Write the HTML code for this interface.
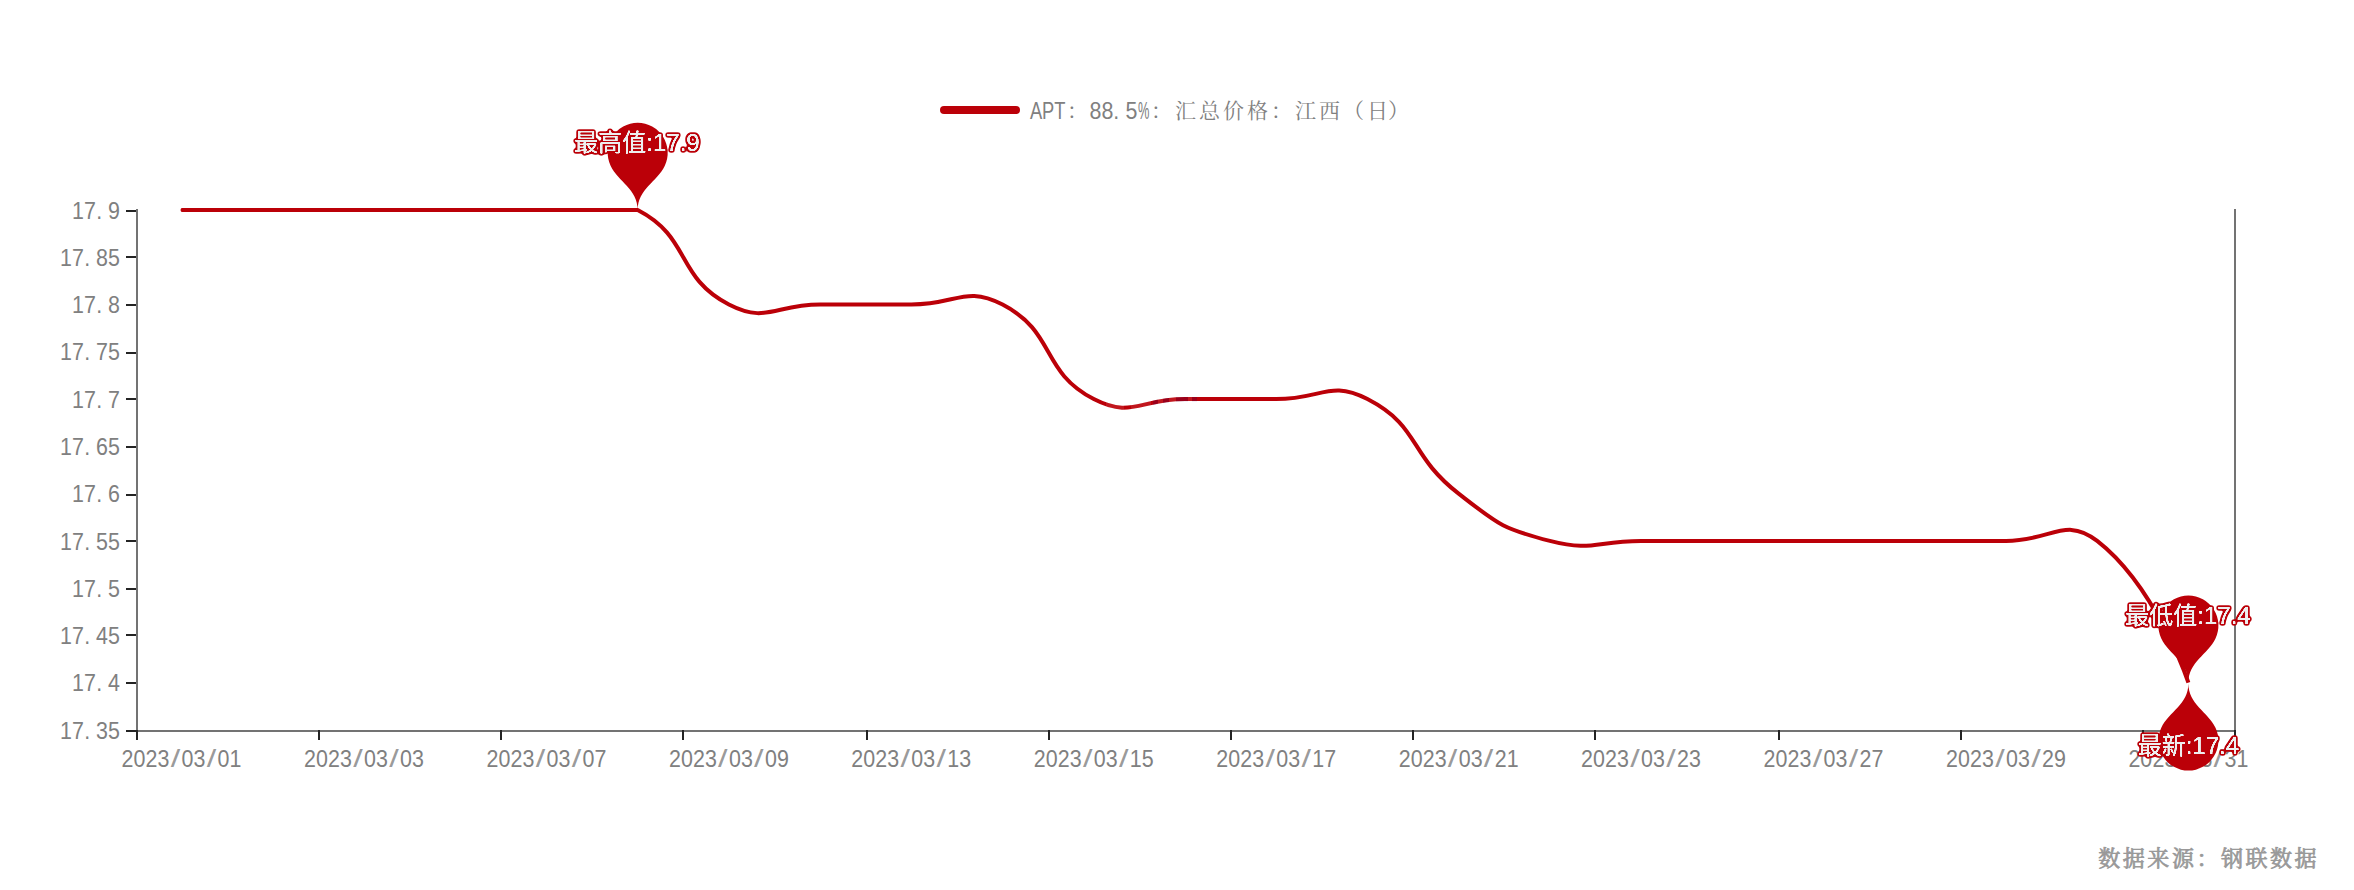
<!DOCTYPE html>
<html lang="zh-CN"><head><meta charset="utf-8"><title>APT：88.5%：汇总价格：江西（日）</title>
<style>html,body{margin:0;padding:0;background:#fff}body{width:2354px;height:890px;overflow:hidden}svg{display:block}
.ax{font-family:"Liberation Sans","Noto Sans CJK SC",sans-serif;font-size:23.3px;fill:#808080}
.kai{font-family:"Liberation Sans","Noto Serif CJK SC","Noto Sans CJK SC",serif;font-size:23.3px;fill:#808080}
.kai .c{font-size:21px}
.mp{font-family:"Liberation Sans","Noto Sans CJK SC",sans-serif;font-size:24px;fill:#eee;text-anchor:middle;filter:url(#halo)}
.ft{font-family:"Liberation Sans","Noto Serif CJK SC","Noto Sans CJK SC",serif;font-size:22px;fill:#999;stroke:#999;stroke-width:.75px}
</style></head><body>
<svg width="2354" height="890" viewBox="0 0 2354 890">
<filter id="halo" x="-10%" y="-30%" width="120%" height="160%" color-interpolation-filters="sRGB"><feGaussianBlur in="SourceAlpha" stdDeviation="0.5" result="b0"/><feComponentTransfer in="b0" result="w"><feFuncA type="linear" slope="2.6" intercept="-0.3"/></feComponentTransfer><feMorphology in="w" operator="dilate" radius="1" result="d"/><feGaussianBlur in="d" stdDeviation="0.9" result="b"/><feComponentTransfer in="b" result="t"><feFuncA type="linear" slope="4" intercept="-0.6"/></feComponentTransfer><feFlood flood-color="#bb0008" result="f"/><feComposite in="f" in2="t" operator="in" result="h"/><feFlood flood-color="#eee" result="g"/><feComposite in="g" in2="w" operator="in" result="wf"/><feMerge><feMergeNode in="h"/><feMergeNode in="wf"/></feMerge></filter>
<rect width="2354" height="890" fill="#fff"/>
<g stroke="#737373" stroke-width="2" fill="none">
<path d="M137 209V732"/><path d="M2235 209V732"/><path d="M136 731H2236"/></g>
<g stroke="#242424" stroke-width="2" fill="none">
<path d="M126 211.0H136"/>
<path d="M126 257.0H136"/>
<path d="M126 305.0H136"/>
<path d="M126 353.0H136"/>
<path d="M126 399.0H136"/>
<path d="M126 447.0H136"/>
<path d="M126 495.0H136"/>
<path d="M126 541.0H136"/>
<path d="M126 589.0H136"/>
<path d="M126 635.0H136"/>
<path d="M126 683.0H136"/>
<path d="M126 731.0H136"/>
<path d="M137.0 730V740"/>
<path d="M319.0 730V740"/>
<path d="M501.0 730V740"/>
<path d="M683.0 730V740"/>
<path d="M867.0 730V740"/>
<path d="M1049.0 730V740"/>
<path d="M1231.0 730V740"/>
<path d="M1413.0 730V740"/>
<path d="M1595.0 730V740"/>
<path d="M1779.0 730V740"/>
<path d="M1961.0 730V740"/>
<path d="M2143.0 730V740"/>
<path d="M2235 730V740"/>
</g>
<g class="ax">
<text transform="translate(72.00 218.60) scale(0.92 1)" x="0.00 13.04 26.41 39.13">17.9</text>
<text transform="translate(60.00 265.87) scale(0.92 1)" x="0.00 13.04 26.41 39.13 52.17">17.85</text>
<text transform="translate(72.00 313.15) scale(0.92 1)" x="0.00 13.04 26.41 39.13">17.8</text>
<text transform="translate(60.00 360.42) scale(0.92 1)" x="0.00 13.04 26.41 39.13 52.17">17.75</text>
<text transform="translate(72.00 407.69) scale(0.92 1)" x="0.00 13.04 26.41 39.13">17.7</text>
<text transform="translate(60.00 454.96) scale(0.92 1)" x="0.00 13.04 26.41 39.13 52.17">17.65</text>
<text transform="translate(72.00 502.24) scale(0.92 1)" x="0.00 13.04 26.41 39.13">17.6</text>
<text transform="translate(60.00 549.51) scale(0.92 1)" x="0.00 13.04 26.41 39.13 52.17">17.55</text>
<text transform="translate(72.00 596.78) scale(0.92 1)" x="0.00 13.04 26.41 39.13">17.5</text>
<text transform="translate(60.00 644.05) scale(0.92 1)" x="0.00 13.04 26.41 39.13 52.17">17.45</text>
<text transform="translate(72.00 691.33) scale(0.92 1)" x="0.00 13.04 26.41 39.13">17.4</text>
<text transform="translate(60.00 738.60) scale(0.92 1)" x="0.00 13.04 26.41 39.13 52.17">17.35</text>
<text transform="translate(121.61 766.70) scale(0.92 1)" x="0.00 13.04 26.09 39.13 53.48 65.22 78.26 92.61 104.35 117.39">2023<tspan fill-opacity=".8" textLength="10.33" lengthAdjust="spacingAndGlyphs">/</tspan>03<tspan fill-opacity=".8" textLength="10.33" lengthAdjust="spacingAndGlyphs">/</tspan>01</text>
<text transform="translate(304.04 766.70) scale(0.92 1)" x="0.00 13.04 26.09 39.13 53.48 65.22 78.26 92.61 104.35 117.39">2023<tspan fill-opacity=".8" textLength="10.33" lengthAdjust="spacingAndGlyphs">/</tspan>03<tspan fill-opacity=".8" textLength="10.33" lengthAdjust="spacingAndGlyphs">/</tspan>03</text>
<text transform="translate(486.48 766.70) scale(0.92 1)" x="0.00 13.04 26.09 39.13 53.48 65.22 78.26 92.61 104.35 117.39">2023<tspan fill-opacity=".8" textLength="10.33" lengthAdjust="spacingAndGlyphs">/</tspan>03<tspan fill-opacity=".8" textLength="10.33" lengthAdjust="spacingAndGlyphs">/</tspan>07</text>
<text transform="translate(668.91 766.70) scale(0.92 1)" x="0.00 13.04 26.09 39.13 53.48 65.22 78.26 92.61 104.35 117.39">2023<tspan fill-opacity=".8" textLength="10.33" lengthAdjust="spacingAndGlyphs">/</tspan>03<tspan fill-opacity=".8" textLength="10.33" lengthAdjust="spacingAndGlyphs">/</tspan>09</text>
<text transform="translate(851.35 766.70) scale(0.92 1)" x="0.00 13.04 26.09 39.13 53.48 65.22 78.26 92.61 104.35 117.39">2023<tspan fill-opacity=".8" textLength="10.33" lengthAdjust="spacingAndGlyphs">/</tspan>03<tspan fill-opacity=".8" textLength="10.33" lengthAdjust="spacingAndGlyphs">/</tspan>13</text>
<text transform="translate(1033.78 766.70) scale(0.92 1)" x="0.00 13.04 26.09 39.13 53.48 65.22 78.26 92.61 104.35 117.39">2023<tspan fill-opacity=".8" textLength="10.33" lengthAdjust="spacingAndGlyphs">/</tspan>03<tspan fill-opacity=".8" textLength="10.33" lengthAdjust="spacingAndGlyphs">/</tspan>15</text>
<text transform="translate(1216.22 766.70) scale(0.92 1)" x="0.00 13.04 26.09 39.13 53.48 65.22 78.26 92.61 104.35 117.39">2023<tspan fill-opacity=".8" textLength="10.33" lengthAdjust="spacingAndGlyphs">/</tspan>03<tspan fill-opacity=".8" textLength="10.33" lengthAdjust="spacingAndGlyphs">/</tspan>17</text>
<text transform="translate(1398.65 766.70) scale(0.92 1)" x="0.00 13.04 26.09 39.13 53.48 65.22 78.26 92.61 104.35 117.39">2023<tspan fill-opacity=".8" textLength="10.33" lengthAdjust="spacingAndGlyphs">/</tspan>03<tspan fill-opacity=".8" textLength="10.33" lengthAdjust="spacingAndGlyphs">/</tspan>21</text>
<text transform="translate(1581.09 766.70) scale(0.92 1)" x="0.00 13.04 26.09 39.13 53.48 65.22 78.26 92.61 104.35 117.39">2023<tspan fill-opacity=".8" textLength="10.33" lengthAdjust="spacingAndGlyphs">/</tspan>03<tspan fill-opacity=".8" textLength="10.33" lengthAdjust="spacingAndGlyphs">/</tspan>23</text>
<text transform="translate(1763.52 766.70) scale(0.92 1)" x="0.00 13.04 26.09 39.13 53.48 65.22 78.26 92.61 104.35 117.39">2023<tspan fill-opacity=".8" textLength="10.33" lengthAdjust="spacingAndGlyphs">/</tspan>03<tspan fill-opacity=".8" textLength="10.33" lengthAdjust="spacingAndGlyphs">/</tspan>27</text>
<text transform="translate(1945.96 766.70) scale(0.92 1)" x="0.00 13.04 26.09 39.13 53.48 65.22 78.26 92.61 104.35 117.39">2023<tspan fill-opacity=".8" textLength="10.33" lengthAdjust="spacingAndGlyphs">/</tspan>03<tspan fill-opacity=".8" textLength="10.33" lengthAdjust="spacingAndGlyphs">/</tspan>29</text>
<text transform="translate(2128.39 766.70) scale(0.92 1)" x="0.00 13.04 26.09 39.13 53.48 65.22 78.26 92.61 104.35 117.39">2023<tspan fill-opacity=".8" textLength="10.33" lengthAdjust="spacingAndGlyphs">/</tspan>03<tspan fill-opacity=".8" textLength="10.33" lengthAdjust="spacingAndGlyphs">/</tspan>31</text>
</g>
<rect x="940" y="106" width="80" height="8" rx="4" ry="4" fill="#bb0008"/>
<text class="kai" y="118.8"><tspan x="1029.9" textLength="35.6" lengthAdjust="spacingAndGlyphs">APT</tspan><tspan class="c" x="1067.0" y="117.8">：</tspan><tspan x="1089.5" y="118.8" textLength="29.8" lengthAdjust="spacingAndGlyphs">88.</tspan><tspan x="1125.5" textLength="11.9" lengthAdjust="spacingAndGlyphs">5</tspan><tspan x="1137.9" textLength="11.4" lengthAdjust="spacingAndGlyphs">%</tspan><tspan class="c" x="1151.0 1175.0 1199.0 1223.0 1247.0 1271.0 1295.0 1319.0 1343.0 1367.0" y="117.8">：汇总价格：江西（日）</tspan></text>
<path d="M181.61 210.00C181.61 210.00 227.22 210.00 272.83 210.00C318.43 210.00 318.43 210.00 364.04 210.00C409.65 210.00 409.65 210.00 455.26 210.00C500.87 210.00 500.87 210.00 546.48 210.00C592.09 210.00 600.32 210.00 637.70 210.00C691.53 237.90 675.08 276.64 728.91 304.55C766.29 323.92 774.52 304.55 820.13 304.55C865.74 304.55 865.74 304.55 911.35 304.55C956.96 304.55 965.18 285.17 1002.57 304.55C1056.40 332.45 1039.95 371.19 1093.78 399.09C1131.16 418.46 1139.39 399.09 1185.00 399.09C1230.61 399.09 1230.61 399.09 1276.22 399.09C1321.83 399.09 1330.05 379.72 1367.43 399.09C1421.27 426.99 1407.46 453.85 1458.65 493.64C1498.68 524.75 1501.55 528.39 1549.87 540.91C1592.77 552.03 1595.48 540.91 1641.09 540.91C1686.70 540.91 1686.70 540.91 1732.30 540.91C1777.91 540.91 1777.91 540.91 1823.52 540.91C1869.13 540.91 1869.13 540.91 1914.74 540.91C1960.35 540.91 1960.35 540.91 2005.96 540.91C2051.57 540.91 2065.15 516.02 2097.17 540.91C2156.37 586.93 2188.39 682.73 2188.39 682.73" fill="none" stroke="#bb0008" stroke-width="4" stroke-linejoin="round"/>
<linearGradient id="wm" gradientUnits="userSpaceOnUse" x1="1100" y1="0" x2="1200" y2="0"><stop offset="0" stop-color="#fff" stop-opacity="0"/><stop offset="0.0600" stop-color="#fff" stop-opacity="0"/><stop offset="0.0600" stop-color="#fff" stop-opacity="0.09"/><stop offset="0.2400" stop-color="#fff" stop-opacity="0.09"/><stop offset="0.2400" stop-color="#fff" stop-opacity="0"/><stop offset="0.3100" stop-color="#fff" stop-opacity="0"/><stop offset="0.3100" stop-color="#fff" stop-opacity="0.09"/><stop offset="0.5100" stop-color="#fff" stop-opacity="0.09"/><stop offset="0.5100" stop-color="#fff" stop-opacity="0"/><stop offset="0.5300" stop-color="#28005a" stop-opacity="0"/><stop offset="0.5300" stop-color="#28005a" stop-opacity="0.22"/><stop offset="0.5800" stop-color="#28005a" stop-opacity="0.22"/><stop offset="0.5800" stop-color="#28005a" stop-opacity="0"/><stop offset="0.5800" stop-color="#fff" stop-opacity="0"/><stop offset="0.5800" stop-color="#fff" stop-opacity="0.09"/><stop offset="0.6300" stop-color="#fff" stop-opacity="0.09"/><stop offset="0.6300" stop-color="#fff" stop-opacity="0"/><stop offset="0.6300" stop-color="#28005a" stop-opacity="0"/><stop offset="0.6300" stop-color="#28005a" stop-opacity="0.22"/><stop offset="0.6900" stop-color="#28005a" stop-opacity="0.22"/><stop offset="0.6900" stop-color="#28005a" stop-opacity="0"/><stop offset="0.6900" stop-color="#fff" stop-opacity="0"/><stop offset="0.6900" stop-color="#fff" stop-opacity="0.09"/><stop offset="0.7600" stop-color="#fff" stop-opacity="0.09"/><stop offset="0.7600" stop-color="#fff" stop-opacity="0"/><stop offset="0.7600" stop-color="#28005a" stop-opacity="0"/><stop offset="0.7600" stop-color="#28005a" stop-opacity="0.22"/><stop offset="0.8750" stop-color="#28005a" stop-opacity="0.22"/><stop offset="0.8750" stop-color="#28005a" stop-opacity="0"/><stop offset="0.8750" stop-color="#fff" stop-opacity="0"/><stop offset="0.8750" stop-color="#fff" stop-opacity="0.09"/><stop offset="0.9200" stop-color="#fff" stop-opacity="0.09"/><stop offset="0.9200" stop-color="#fff" stop-opacity="0"/><stop offset="0.9200" stop-color="#28005a" stop-opacity="0"/><stop offset="0.9200" stop-color="#28005a" stop-opacity="0.22"/><stop offset="0.9700" stop-color="#28005a" stop-opacity="0.22"/><stop offset="0.9700" stop-color="#28005a" stop-opacity="0"/><stop offset="1" stop-color="#fff" stop-opacity="0"/></linearGradient>
<path d="M181.61 210.00C181.61 210.00 227.22 210.00 272.83 210.00C318.43 210.00 318.43 210.00 364.04 210.00C409.65 210.00 409.65 210.00 455.26 210.00C500.87 210.00 500.87 210.00 546.48 210.00C592.09 210.00 600.32 210.00 637.70 210.00C691.53 237.90 675.08 276.64 728.91 304.55C766.29 323.92 774.52 304.55 820.13 304.55C865.74 304.55 865.74 304.55 911.35 304.55C956.96 304.55 965.18 285.17 1002.57 304.55C1056.40 332.45 1039.95 371.19 1093.78 399.09C1131.16 418.46 1139.39 399.09 1185.00 399.09C1230.61 399.09 1230.61 399.09 1276.22 399.09C1321.83 399.09 1330.05 379.72 1367.43 399.09C1421.27 426.99 1407.46 453.85 1458.65 493.64C1498.68 524.75 1501.55 528.39 1549.87 540.91C1592.77 552.03 1595.48 540.91 1641.09 540.91C1686.70 540.91 1686.70 540.91 1732.30 540.91C1777.91 540.91 1777.91 540.91 1823.52 540.91C1869.13 540.91 1869.13 540.91 1914.74 540.91C1960.35 540.91 1960.35 540.91 2005.96 540.91C2051.57 540.91 2065.15 516.02 2097.17 540.91C2156.37 586.93 2188.39 682.73 2188.39 682.73" fill="none" stroke="url(#wm)" stroke-width="4.4"/>
<circle cx="182.51" cy="210.00" r="2" fill="#bb0008"/>
<path d="M-27.105 -44.286A30.000 30.000 0 1 1 27.105 -44.286C19.391 -28.023 0.000 -21.000 0.000 0.000C0.000 -21.000 -19.391 -28.023 -27.105 -44.286Z" transform="translate(637.70 210.00)" fill="#bb0008"/>
<path d="M-27.105 -44.286A30.000 30.000 0 1 1 27.105 -44.286C19.391 -28.023 0.000 -21.000 0.000 0.000C0.000 -21.000 -19.391 -28.023 -27.105 -44.286Z" transform="translate(2188.39 682.73)" fill="#bb0008"/>
<path d="M-27.105 -44.286A30.000 30.000 0 1 1 27.105 -44.286C19.391 -28.023 0.000 -21.000 0.000 0.000C0.000 -21.000 -19.391 -28.023 -27.105 -44.286Z" transform="translate(2188.39 683.43) rotate(180)" fill="#bb0008"/>
<text class="mp" x="637.00" y="150.90">最高值:17.9</text>
<text class="mp" x="2188.00" y="623.80">最低值:17.4</text>
<text class="mp" x="2188.40" y="754.30">最新:17.4</text>
<text class="ft" x="2098.3 2122.8 2147.3 2171.9 2196.4 2220.9 2245.4 2269.9 2294.5" y="866">数据来源：钢联数据</text>
</svg></body></html>
